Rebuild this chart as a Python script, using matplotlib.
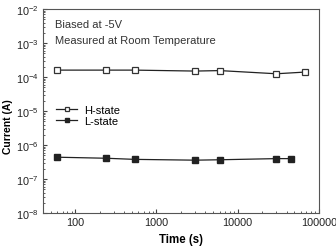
import matplotlib
matplotlib.use("Agg")
import matplotlib.pyplot as plt
from matplotlib.ticker import LogLocator, FixedLocator, NullFormatter

plt.rcParams['font.family'] = ['Liberation Sans', 'DejaVu Sans']

time_h = [60, 240, 540, 3000, 6000, 30000, 67000]
current_h = [1.6e-4, 1.6e-4, 1.6e-4, 1.5e-4, 1.55e-4, 1.25e-4, 1.4e-4]
time_l = [60, 240, 540, 3000, 6000, 30000, 46000]
current_l = [4.4e-7, 4.1e-7, 3.8e-7, 3.6e-7, 3.7e-7, 4.0e-7, 4.0e-7]
xticks = [100, 1000, 10000, 100000]
xticklabels = ['100', '1000', '10000', '100000']

fig = plt.figure(figsize=(3.36, 2.51), dpi=100)
ax = fig.add_axes([0.128, 0.147, 0.821, 0.813])
ax.plot(time_h, current_h, '-', color='#222222', lw=0.9, marker='s', ms=4,
        mfc='white', mec='#333333', mew=0.9, label='H-state')
ax.plot(time_l, current_l, '-', color='#222222', lw=0.9, marker='s', ms=4.3,
        mfc='#222222', mec='#222222', label='L-state')
ax.set_xscale('log')
ax.set_yscale('log')
ax.set_xlim(40, 100000)
ax.set_ylim(1e-8, 1e-2)
ax.xaxis.set_major_locator(FixedLocator(xticks))
ax.set_xticklabels(xticklabels)
ax.xaxis.set_minor_locator(LogLocator(base=10, subs=range(2, 10)))
ax.xaxis.set_minor_formatter(NullFormatter())
ax.yaxis.set_major_locator(LogLocator(base=10, numticks=10))
ax.yaxis.set_minor_locator(LogLocator(base=10, subs=range(2, 10), numticks=10))
ax.yaxis.set_minor_formatter(NullFormatter())
ax.tick_params(which='both', direction='in', top=False, right=False,
               labelsize=7.8, color='#444444', labelcolor='#222222')
ax.tick_params(which='major', length=3, pad=3)
ax.tick_params(which='minor', length=1.5)
for s in ax.spines.values():
    s.set_color('#555555')
    s.set_linewidth(0.8)
ax.set_xlabel('Time (s)', fontsize=8.3, fontweight='bold', labelpad=4)
ax.set_ylabel('Current (A)', fontsize=7.5, fontweight='bold')
ax.yaxis.set_label_coords(-0.11, 0.43)
ax.text(0.045, 0.926, 'Biased at -5V', transform=ax.transAxes, fontsize=8,
        color='#333333', va='center')
ax.text(0.045, 0.848, 'Measured at Room Temperature', transform=ax.transAxes,
        fontsize=8, color='#333333', va='center')
ax.legend(loc='upper left', bbox_to_anchor=(0.015, 0.575), frameon=False, fontsize=8,
          handlelength=1.9, markerscale=0.55, labelspacing=0.1, handletextpad=0.6,
          borderpad=0.3)
fig.savefig('out.png', dpi=100)
